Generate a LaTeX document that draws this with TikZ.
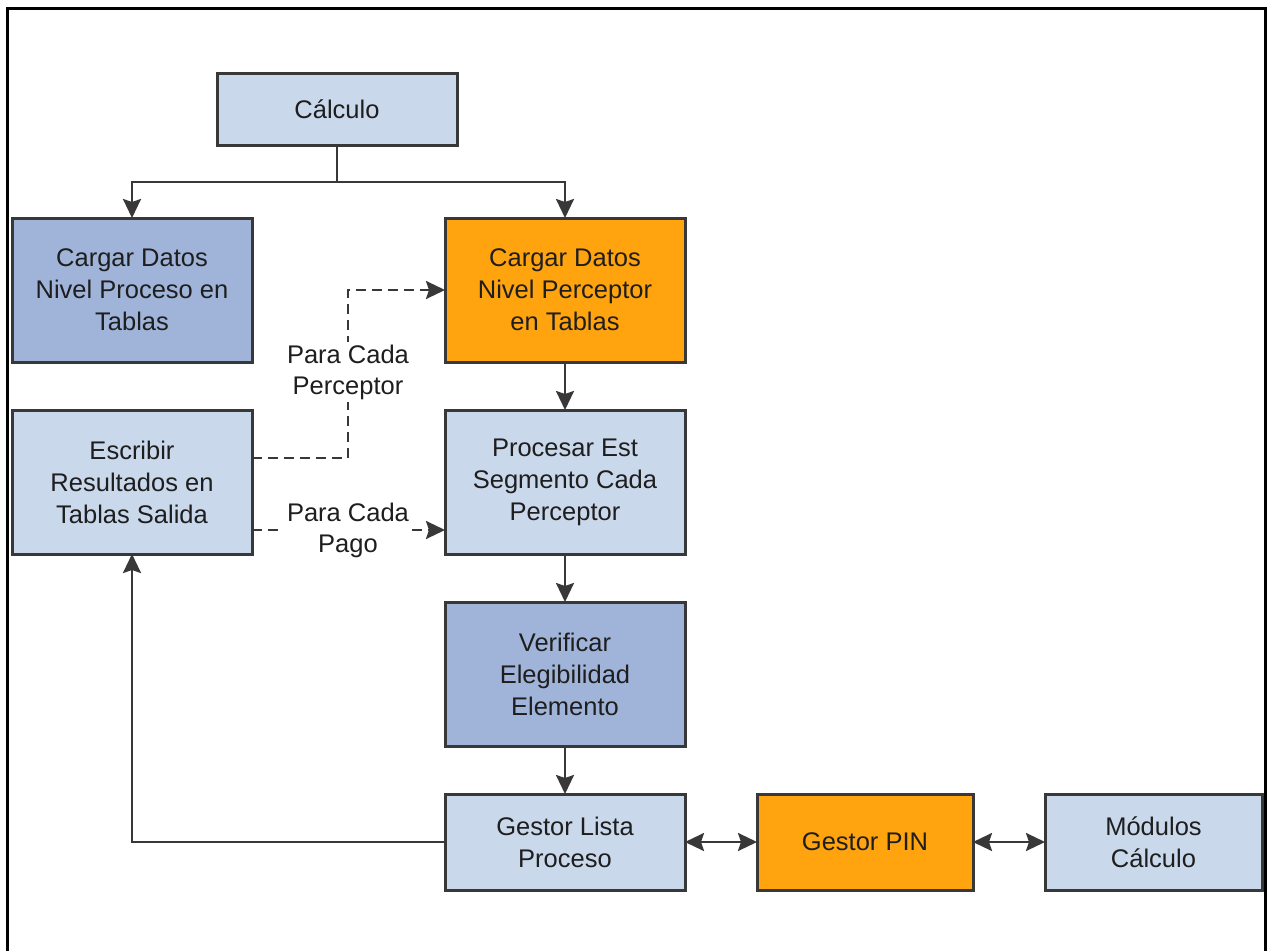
\documentclass[tikz,border=0pt]{standalone}
\usepackage{fontspec}
\setmainfont{Liberation Sans}
\usetikzlibrary{arrows.meta}
\definecolor{lightbox}{HTML}{CAD8EC}
\definecolor{midbox}{HTML}{A0B4DA}
\definecolor{orangebox}{HTML}{FFA30F}
\definecolor{edge}{HTML}{383838}
\definecolor{txt}{HTML}{1E1E1E}
\tikzset{
  box/.style={draw=edge, line width=3pt, inner sep=0pt, outer sep=0pt,
    align=center, text=txt, font=\fontsize{25.5}{32}\selectfont},
  lbox/.style={box, fill=lightbox},
  mbox/.style={box, fill=midbox},
  obox/.style={box, fill=orangebox},
  conn/.style={draw=edge, line width=2.5pt},
  arr/.style={conn, -{Stealth[length=19pt,width=18pt,inset=3pt]}},
  darr/.style={conn, {Stealth[length=19pt,width=18pt,inset=3pt]}-{Stealth[length=19pt,width=18pt,inset=3pt]}},
  dsh/.style={dash pattern=on 10pt off 6pt},
  lbl/.style={fill=white, inner sep=3pt, align=center, text=txt,
    font=\fontsize{25.5}{31}\selectfont},
}
\begin{document}
\begin{tikzpicture}[x=1pt,y=-1pt]
\useasboundingbox (0,0) rectangle (1267,951);
\fill[white] (0,0) rectangle (1267,951);
\draw[line width=3pt] (7,951) -- (7,8) -- (1265,8) -- (1265,951);

\node[lbox, minimum width=240pt, minimum height=72pt] (calc) at (337,109) {Cálculo};
\node[mbox, minimum width=240pt, minimum height=144pt] (proc) at (132,290) {Cargar Datos\\Nivel Proceso en\\Tablas};
\node[obox, minimum width=240pt, minimum height=144pt] (perc) at (565,290) {Cargar Datos\\Nivel Perceptor\\en Tablas};
\node[lbox, minimum width=240pt, minimum height=144pt] (escr) at (132,482) {Escribir\\Resultados en\\Tablas Salida};
\node[lbox, minimum width=240pt, minimum height=144pt] (pr) at (565,482) {Procesar Est\\Segmento Cada\\Perceptor};
\node[mbox, minimum width=240pt, minimum height=144pt] (ver) at (565,674) {Verificar\\Elegibilidad\\Elemento};
\node[lbox, minimum width=240pt, minimum height=96pt] (gl) at (565,842) {Gestor Lista\\Proceso};
\node[obox, minimum width=216pt, minimum height=96pt] (pin) at (865,842) {Gestor PIN};
\node[lbox, minimum width=217pt, minimum height=96pt] (mod) at (1153.5,842) {Módulos\\Cálculo};

\coordinate (j) at (337,182);
\draw[conn] (calc.south) -- (j);
\draw[arr] (j) -| (proc.north);
\draw[arr] (j) -| (perc.north);

\draw[arr] (perc.south) -- (pr.north);
\draw[arr] (pr.south) -- (ver.north);
\draw[arr] (ver.south) -- (gl.north);

\draw[arr] (gl.west) -| (escr.south);
\draw[darr] (gl.east) -- (pin.west);
\draw[darr] (pin.east) -- (mod.west);

\coordinate (t1) at (348,290);
\draw[arr, dsh] ([yshift=24pt]escr.east) -| (t1) -- (perc.west);
\node[lbl] (l1) at (348,372) {Para Cada\\Perceptor};

\draw[arr, dsh] ([yshift=-48pt]escr.east) -- ([yshift=-48pt]pr.west);
\node[lbl] (l2) at (348,530) {Para Cada\\Pago};
\end{tikzpicture}
\end{document}
